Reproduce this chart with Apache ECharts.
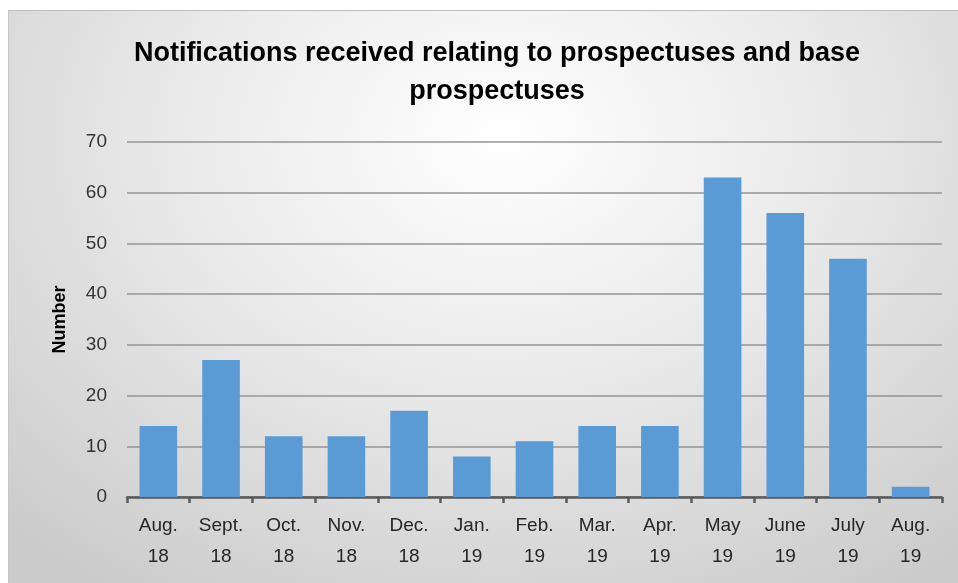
<!DOCTYPE html>
<html>
<head>
<meta charset="utf-8">
<script src="https://cdn.jsdelivr.net/npm/echarts@6/dist/echarts.min.js"></script>
<style>
  html, body { margin: 0; padding: 0; background: #ffffff; width: 958px; height: 583px; overflow: hidden; }
  #bg { position: absolute; left: 8px; top: 10px; width: 950px; height: 573px;
        background: radial-gradient(ellipse 75% 95% at 52% 22%, #ffffff 0%, #eaeaea 45%, #cbcbcb 100%);
        border-top: 1px solid #bdbdbd; border-left: 1px solid #c8c8c8; box-sizing: border-box; }
  #chart { position: absolute; left: 0; top: 0; width: 958px; height: 583px; }
</style>
</head>
<body>
<div id="bg"></div>
<div id="chart"></div>
<script>
const categories = ['Aug.\n18', 'Sept.\n18', 'Oct.\n18', 'Nov.\n18', 'Dec.\n18', 'Jan.\n19', 'Feb.\n19', 'Mar.\n19', 'Apr.\n19', 'May\n19', 'June\n19', 'July\n19', 'Aug.\n19'];
const notifications = [14, 27, 12, 12, 17, 8, 11, 14, 14, 63, 56, 47, 2];
const titleText = 'Notifications received relating to prospectuses and base\nprospectuses';
const yAxisName = 'Number';

const chart = echarts.init(document.getElementById('chart'), null, { renderer: 'canvas' });
const font = '"Liberation Sans Narrow", "Liberation Sans", Arial, sans-serif';
chart.setOption({
  backgroundColor: 'transparent',
  animation: false,
  title: {
    text: titleText,
    left: 492,
    textAlign: 'center',
    top: 30,
    textStyle: { fontFamily: font, fontSize: 27, fontWeight: 'bold', color: '#000000', lineHeight: 38 }
  },
  grid: { left: 127, right: 16, top: 142, bottom: 86 },
  xAxis: {
    type: 'category',
    data: categories,
    axisLine: { lineStyle: { color: '#595959', width: 2.5 } },
    axisTick: { show: true, length: 6, lineStyle: { color: '#595959', width: 2.5 } },
    axisLabel: { fontFamily: font, fontSize: 19, color: '#262626', lineHeight: 31, margin: 13 }
  },
  yAxis: {
    type: 'value',
    min: 0, max: 70, interval: 10,
    name: yAxisName,
    nameLocation: 'middle',
    nameGap: 58,
    nameTextStyle: { fontFamily: font, fontSize: 18, fontWeight: 'bold', color: '#000000' },
    axisLine: { show: false },
    axisTick: { show: false },
    axisLabel: { fontFamily: font, fontSize: 19, color: '#333333', margin: 20 },
    splitLine: { lineStyle: { color: '#949494', width: 1.7 } }
  },
  series: [{
    type: 'bar',
    data: notifications,
    barCategoryGap: '40%',
    itemStyle: { color: '#5B9BD5' }
  }]
});
</script>
</body>
</html>
